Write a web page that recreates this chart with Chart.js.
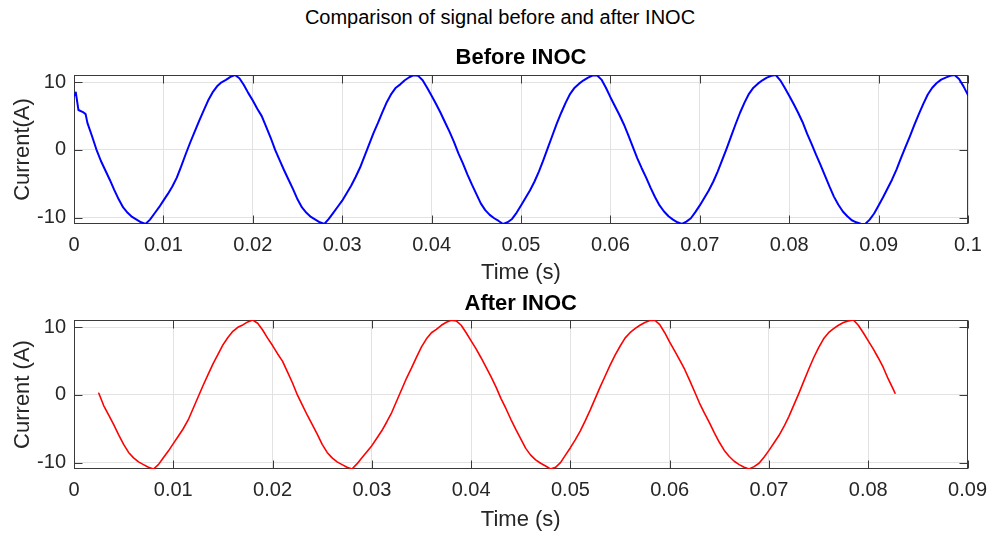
<!DOCTYPE html>
<html>
<head>
<meta charset="utf-8">
<script src="https://cdn.jsdelivr.net/npm/chart.js@4.4.0/dist/chart.umd.min.js"></script>
<style>
html,body{margin:0;padding:0;background:#fff;}
body{width:996px;height:539px;position:relative;overflow:hidden;font-family:"Liberation Sans",Arial,sans-serif;}
#sg{position:absolute;left:0;top:5px;width:1000px;text-align:center;font-size:20px;line-height:24px;color:#000;}
#c1{position:absolute;left:0;top:0;}
#c2{position:absolute;left:0;top:290px;}
</style>
</head>
<body>
<div id="sg">Comparison of signal before and after INOC</div>
<canvas id="c1" width="996" height="290"></canvas>
<canvas id="c2" width="996" height="249"></canvas>
<script>
// ---- data ----
const beforeTime = [
0,0.0002,0.0005,0.001,0.0013,0.0015,0.002,0.0025,0.003,0.0035,0.004,0.0045,0.005,0.0055,0.006,0.0065,0.007,0.0075,0.008,
0.0085,0.009,0.0095,0.01,0.0105,0.011,0.0115,0.012,0.0125,0.013,0.0135,0.014,0.0145,0.015,0.0155,0.016,0.0165,0.017,0.0175,0.018,
0.0185,0.019,0.0195,0.02,0.0205,0.021,0.0215,0.022,0.0225,0.023,0.0235,0.024,0.0245,0.025,0.0255,0.026,0.0265,0.027,0.0275,0.028,
0.0285,0.029,0.0295,0.03,0.0305,0.031,0.0315,0.032,0.0325,0.033,0.0335,0.034,0.0345,0.035,0.0355,0.036,0.0365,0.037,0.0375,0.038,
0.0385,0.039,0.0395,0.04,0.0405,0.041,0.0415,0.042,0.0425,0.043,0.0435,0.044,0.0445,0.045,0.0455,0.046,0.0465,0.047,0.0475,0.048,
0.0485,0.049,0.0495,0.05,0.0505,0.051,0.0515,0.052,0.0525,0.053,0.0535,0.054,0.0545,0.055,0.0555,0.056,0.0565,0.057,0.0575,0.058,0.0585,
0.059,0.0595,0.06,0.0605,0.061,0.0615,0.062,0.0625,0.063,0.0635,0.064,0.0645,0.065,0.0655,0.066,0.0665,0.067,0.0675,0.068,
0.0685,0.069,0.0695,0.07,0.0705,0.071,0.0715,0.072,0.0725,0.073,0.0735,0.074,0.0745,0.075,0.0755,0.076,0.0765,0.077,0.0775,0.078,0.0785,
0.079,0.0795,0.08,0.0805,0.081,0.0815,0.082,0.0825,0.083,0.0835,0.084,0.0845,0.085,0.0855,0.086,0.0865,0.087,0.0875,0.088,0.0885,
0.089,0.0895,0.09,0.0905,0.091,0.0915,0.092,0.0925,0.093,0.0935,0.094,0.0945,0.095,0.0955,0.096,0.0965,0.097,0.0975,0.098,0.0985,
0.099,0.0995,0.1
];
const beforeCurrent = [
8.0,8.5,5.9,5.6,5.3,4.0,2.1,0.1,-1.6,-3.0,-4.4,-5.9,-7.3,-8.5,-9.3,-9.9,-10.3,-10.7,-10.95,
-10.3,-9.4,-8.5,-7.5,-6.5,-5.4,-4.1,-2.4,-0.6,1.1,2.7,4.3,5.8,7.3,8.5,9.4,10.0,10.35,10.8,11.08,
10.6,9.6,8.4,7.3,6.1,5.0,3.4,1.8,0.0,-1.5,-3.0,-4.4,-5.8,-7.3,-8.5,-9.3,-9.9,-10.3,-10.7,-10.95,
-10.2,-9.3,-8.4,-7.5,-6.4,-5.3,-4.0,-2.6,-0.9,0.8,2.5,4.0,5.6,7.1,8.3,9.2,9.7,10.3,10.75,11.05,
10.95,10.3,9.2,8.0,6.8,5.5,4.1,2.7,1.2,-0.5,-2.0,-3.6,-5.1,-6.5,-7.9,-8.9,-9.6,-10.1,-10.5,-10.95,
-10.7,-10.2,-9.3,-8.2,-7.1,-6.0,-4.7,-3.2,-1.5,0.3,2.1,3.9,5.5,7.0,8.3,9.2,9.8,10.3,10.7,11.0,11.05,
10.4,9.2,7.8,6.5,5.2,3.8,2.2,0.5,-1.2,-2.7,-4.1,-5.6,-7.0,-8.2,-9.1,-9.8,-10.3,-10.7,-10.95,
-10.6,-10.1,-9.2,-8.2,-7.1,-6.0,-4.7,-3.2,-1.5,0.2,2.0,3.8,5.5,7.0,8.3,9.2,9.8,10.3,10.7,10.95,11.08,
10.3,9.2,8.0,6.8,5.5,4.1,2.4,0.9,-0.7,-2.2,-3.8,-5.4,-6.9,-8.1,-9.1,-9.8,-10.4,-10.7,-10.9,-10.95,
-10.3,-9.4,-8.2,-7.0,-5.7,-4.4,-2.9,-1.2,0.4,2.0,3.7,5.3,6.8,8.2,9.2,9.9,10.4,10.7,10.95,11.08,
10.5,9.4,8.1
];
const afterTime = [
0.0025,0.003,0.0035,0.004,0.0045,0.005,0.0055,0.006,0.0065,0.007,0.0075,0.008,
0.0085,0.009,0.0095,0.01,0.0105,0.011,0.0115,0.012,0.0125,0.013,0.0135,0.014,0.0145,0.015,0.0155,0.016,0.0165,0.017,0.0175,0.018,
0.0185,0.019,0.0195,0.02,0.0205,0.021,0.0215,0.022,0.0225,0.023,0.0235,0.024,0.0245,0.025,0.0255,0.026,0.0265,0.027,0.0275,0.028,
0.0285,0.029,0.0295,0.03,0.0305,0.031,0.0315,0.032,0.0325,0.033,0.0335,0.034,0.0345,0.035,0.0355,0.036,0.0365,0.037,0.0375,0.038,
0.0385,0.039,0.0395,0.04,0.0405,0.041,0.0415,0.042,0.0425,0.043,0.0435,0.044,0.0445,0.045,0.0455,0.046,0.0465,0.047,0.0475,0.048,
0.0485,0.049,0.0495,0.05,0.0505,0.051,0.0515,0.052,0.0525,0.053,0.0535,0.054,0.0545,0.055,0.0555,0.056,0.0565,0.057,0.0575,0.058,0.0585,
0.059,0.0595,0.06,0.0605,0.061,0.0615,0.062,0.0625,0.063,0.0635,0.064,0.0645,0.065,0.0655,0.066,0.0665,0.067,0.0675,0.068,
0.0685,0.069,0.0695,0.07,0.0705,0.071,0.0715,0.072,0.0725,0.073,0.0735,0.074,0.0745,0.075,0.0755,0.076,0.0765,0.077,0.0775,0.078,0.0785,
0.079,0.0795,0.08,0.0805,0.081,0.0815,0.082,0.0825,0.0827
];
const afterCurrent = [
0.25,-1.6,-3.0,-4.4,-5.9,-7.3,-8.5,-9.3,-9.9,-10.3,-10.7,-10.95,
-10.3,-9.3,-8.3,-7.2,-6.1,-5.0,-3.7,-2.0,-0.3,1.4,3.0,4.6,6.0,7.4,8.5,9.4,10.0,10.35,10.8,11.08,
10.6,9.6,8.4,7.3,6.1,5.0,3.4,1.8,0.0,-1.5,-3.0,-4.4,-5.8,-7.3,-8.5,-9.3,-9.9,-10.3,-10.7,-10.95,
-10.2,-9.3,-8.4,-7.5,-6.4,-5.3,-4.0,-2.6,-0.9,0.8,2.5,4.0,5.6,7.1,8.3,9.2,9.7,10.3,10.75,11.05,
10.95,10.3,9.2,8.0,6.8,5.5,4.1,2.7,1.2,-0.5,-2.0,-3.6,-5.1,-6.5,-7.9,-8.9,-9.6,-10.1,-10.5,-10.95,
-10.7,-10.0,-8.9,-7.8,-6.6,-5.3,-3.8,-2.2,-0.5,1.2,2.8,4.4,5.9,7.2,8.4,9.2,9.8,10.3,10.7,11.0,11.05,
10.4,9.2,7.8,6.5,5.2,3.8,2.2,0.5,-1.2,-2.7,-4.1,-5.6,-7.0,-8.2,-9.1,-9.8,-10.3,-10.7,-10.95,
-10.6,-10.1,-9.2,-8.2,-7.1,-6.0,-4.7,-3.2,-1.5,0.2,2.0,3.8,5.5,7.0,8.3,9.2,9.8,10.3,10.7,10.95,11.08,
10.3,9.2,8.0,6.8,5.5,4.1,2.4,0.9,0.25
];
const beforeXTicks = [0,0.01,0.02,0.03,0.04,0.05,0.06,0.07,0.08,0.09,0.1];
const beforeXLabels = ['0','0.01','0.02','0.03','0.04','0.05','0.06','0.07','0.08','0.09','0.1'];
const afterXTicks = [0,0.01,0.02,0.03,0.04,0.05,0.06,0.07,0.08,0.09];
const afterXLabels = ['0','0.01','0.02','0.03','0.04','0.05','0.06','0.07','0.08','0.09'];
const yTicks = [-10,0,10];
const yTickLabels = ['-10','0','10'];

// ---- rendering ----
const FONT = '"Liberation Sans", Arial, Helvetica, sans-serif';
Chart.defaults.font.family = FONT;
const AXIS = '#262626';
const GRID = '#e2e2e2';

function pairs(ts, vs) { return ts.map((t, i) => ({x: t, y: vs[i]})); }

const frame = {
  id: 'matlabFrame',
  beforeDatasetsDraw(chart, args, opts) {
    const {ctx, chartArea: a, scales: {x, y}} = chart;
    ctx.save();
    ctx.strokeStyle = '#3a3a3a';
    ctx.lineWidth = 1;
    const L = Math.round(a.left) + 0.5, R = Math.round(a.right) - 0.5;
    const T = Math.round(a.top) + 0.5, B = Math.round(a.bottom) - 0.5;
    ctx.strokeRect(L, T, R - L, B - T);
    const len = 8;
    ctx.beginPath();
    x.ticks.forEach(t => {
      const px = Math.round(x.getPixelForValue(t.value)) + 0.5;
      ctx.moveTo(px, B); ctx.lineTo(px, B - len);
      ctx.moveTo(px, T); ctx.lineTo(px, T + len);
    });
    y.ticks.forEach(t => {
      const py = Math.round(y.getPixelForValue(t.value)) + 0.5;
      ctx.moveTo(L, py); ctx.lineTo(L + len, py);
      ctx.moveTo(R, py); ctx.lineTo(R - len, py);
    });
    ctx.stroke();
    ctx.restore();
  },
  afterDraw(chart, args, opts) {
    const {ctx, chartArea: a} = chart;
    ctx.save();
    ctx.font = 'bold 22px ' + FONT;
    ctx.fillStyle = '#000';
    ctx.textAlign = 'center';
    ctx.textBaseline = 'middle';
    ctx.fillText(opts.text, (a.left + a.right) / 2, a.top - opts.offset);
    ctx.restore();
  }
};

function makeChart(canvasId, cfg) {
  return new Chart(document.getElementById(canvasId), {
    type: 'line',
    data: {
      datasets: [{
        data: pairs(cfg.t, cfg.v),
        borderColor: cfg.color,
        borderWidth: cfg.width,
        pointRadius: 0,
        tension: 0,
        fill: false,
        borderJoinStyle: 'round',
        borderCapStyle: 'round'
      }]
    },
    options: {
      responsive: false,
      animation: false,
      devicePixelRatio: 1,
      layout: {padding: {left: 0, right: 28, top: cfg.top, bottom: 0}},
      plugins: {
        legend: {display: false},
        tooltip: {enabled: false},
        matlabFrame: {text: cfg.title, offset: cfg.titleOffset}
      },
      scales: {
        x: {
          type: 'linear',
          min: 0,
          max: cfg.xMax,
          afterFit: s => { s.height = cfg.xHeight; },
          afterBuildTicks: s => { s.ticks = cfg.xTicks.map(v => ({value: v})); },
          ticks: {
            autoSkip: false, maxRotation: 0, padding: 9,
            color: AXIS, font: {size: 20},
            callback: (v, i) => cfg.xLabels[i]
          },
          grid: {color: GRID, lineWidth: 1, drawTicks: false},
          border: {display: false},
          title: {display: true, text: 'Time (s)', color: AXIS, font: {size: 22},
                  padding: {top: 0, bottom: cfg.xTitlePad}}
        },
        y: {
          type: 'linear',
          min: -10.95,
          max: 11.08,
          afterFit: s => { s.width = 74; },
          afterBuildTicks: s => { s.ticks = yTicks.map(v => ({value: v})); },
          ticks: {
            padding: 8, color: AXIS, font: {size: 20},
            callback: (v, i) => yTickLabels[i]
          },
          grid: {color: GRID, lineWidth: 1, drawTicks: false},
          border: {display: false},
          title: {display: true, text: cfg.yTitle, color: AXIS, font: {size: 22},
                  padding: {top: 10, bottom: 0}}
        }
      }
    },
    plugins: [frame]
  });
}

makeChart('c1', {
  t: beforeTime, v: beforeCurrent, color: '#0000ff', width: 2,
  title: 'Before INOC', titleOffset: 17, top: 75, xHeight: 66, xTitlePad: 4,
  xMax: 0.1, xTicks: beforeXTicks, xLabels: beforeXLabels, yTitle: 'Current(A)'
});
makeChart('c2', {
  t: afterTime, v: afterCurrent, color: '#ff0000', width: 1.6,
  title: 'After INOC', titleOffset: 16, top: 30, xHeight: 70, xTitlePad: 6,
  xMax: 0.09, xTicks: afterXTicks, xLabels: afterXLabels, yTitle: 'Current (A)'
});
</script>
</body>
</html>
